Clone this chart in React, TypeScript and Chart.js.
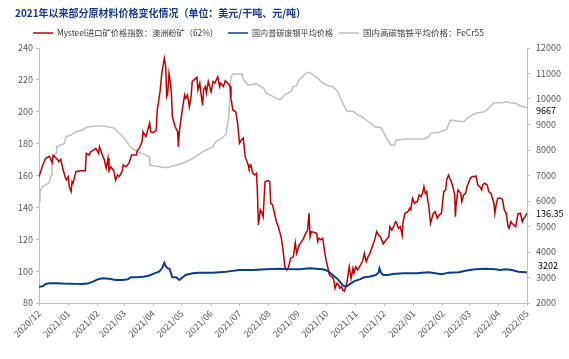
import React, { useEffect, useRef } from 'react';
import { Chart, registerables } from 'chart.js';

Chart.register(...registerables);

const FONT = '"Noto Sans CJK SC", "Noto Sans", sans-serif';

const chartTitle = '2021年以来部分原材料价格变化情况（单位：美元/干吨、元/吨）';
const seriesNames = [
  'Mysteel进口矿价格指数：澳洲粉矿（62%）',
  '国内普碳废钢平均价格',
  '国内高碳铬铁平均价格：FeCr55',
];
const monthLabels = [
  '2020/12', '2021/01', '2021/02', '2021/03', '2021/04', '2021/05', '2021/06', '2021/07', '2021/08',
  '2021/09', '2021/10', '2021/11', '2021/12', '2022/01', '2022/02', '2022/03', '2022/04', '2022/05',
];
const leftTicks = [80, 100, 120, 140, 160, 180, 200, 220, 240];
const rightTicks = [2000, 3000, 4000, 5000, 6000, 7000, 8000, 9000, 10000, 11000, 12000];

// days since 2020/12/01
const ironDay = [
  0, 4, 7, 11, 14, 15, 18, 20, 21, 23, 25, 28, 29, 31, 32, 34, 35, 36, 39, 44, 49, 50, 53, 55, 58, 60, 63, 64,
  67, 69, 71, 73, 74, 76, 79, 81, 83, 85, 88, 89, 92, 95, 98, 103, 104, 106, 109, 110, 113, 117, 118, 121, 124,
  125, 128, 130, 131, 132.5, 134, 135, 136, 137.5, 139, 140, 141, 144, 146.6, 147.3, 148.4, 150, 152, 154, 155,
  157, 159, 161, 162, 164, 167, 168, 170, 171, 173, 174, 176, 177, 179, 182, 184, 186, 189, 191, 192, 195, 197,
  201, 202, 203, 205, 208, 210, 212, 214, 216, 218, 221, 222, 224, 226, 228, 230, 231, 232, 234, 236, 237, 239,
  242, 244, 245, 247, 249, 251, 253, 256, 258, 260, 262, 264, 266, 269, 271, 272.5, 275, 279, 282, 284, 285.5,
  286.6, 288, 291, 293.6, 294.7, 296, 298, 300, 302, 303.5, 306, 307, 309, 310.6, 312, 313, 315, 317, 318, 320,
  321, 323, 325, 326, 328, 330, 332, 333, 335, 337, 339, 342, 344, 346, 348, 350, 353, 355, 357, 359, 361, 363,
  364, 367, 370, 371, 373, 375, 377, 378, 380, 382, 384, 385, 387, 390, 392, 393, 395, 397, 399, 400, 402, 404,
  406, 407, 408.5, 410, 411, 412, 414, 416, 417, 419, 421, 423, 425.5, 427, 428, 430, 431, 433, 435, 436, 437.5,
  439.6, 440.3, 441, 443, 444.5, 446, 447, 449, 451, 452.6, 454, 456, 458, 461, 462, 464, 466, 468, 469, 471,
  474, 475.5, 478, 481, 482, 483, 485, 488, 490, 492, 494, 496, 497, 499, 500, 502, 504, 505, 506.5, 509, 511,
  512.6, 514, 516,
];
const ironValue = [
  159, 166.6, 170.8, 172, 168, 172.7, 171, 169.7, 168.7, 170.2, 164.5, 158.4, 157.2, 159.3, 153, 149.9, 156.1,
  155.1, 162.4, 163, 163, 174, 172.9, 175, 176, 177, 174, 178, 172.9, 170, 164.5, 170.8, 163, 165.5, 163, 157.2,
  160.3, 159.3, 163, 166.6, 165.5, 167.6, 172.9, 172.9, 175.7, 177, 181.2, 187.5, 184.4, 192.8, 187.5, 186.9,
  188.6, 201, 212.6, 225, 228.3, 233.5, 228.3, 209.5, 211, 224, 218, 211.6, 197, 190.6, 187.5, 178, 187.5, 194.8,
  203.2, 210.5, 208.4, 210.5, 203, 210.5, 218.9, 220, 221.6, 213.7, 218, 212.6, 204, 213.7, 215.8, 211.6, 219,
  212.6, 218.9, 218, 222, 215.8, 218, 215.8, 219.5, 217, 215.8, 208.4, 201, 200, 192.8, 180.2, 182.3, 183.5,
  171.8, 167, 164.5, 166.6, 161.4, 160.3, 161.4, 148.8, 129, 138.4, 136.3, 134.2, 156.1, 156.8, 156.1, 142.6,
  141.5, 136.3, 131, 127.9, 121.6, 113.3, 102.8, 100.7, 102.8, 108, 109.1, 117.8, 111.2, 116.4, 119.6, 123.7,
  125.8, 136.3, 121.6, 124.8, 124.2, 123.7, 118.5, 120.6, 119.6, 120.6, 112.2, 107, 100.7, 97.6, 96.5, 96.1,
  93.4, 89.3, 92.4, 91.3, 89.3, 90.3, 88.2, 87.5, 91.3, 94.5, 102.8, 95.5, 101.8, 98.7, 102.8, 100.7, 102.8, 106,
  111.2, 106, 109.1, 111.2, 116.4, 119.6, 124.8, 122.7, 121.6, 118.5, 117, 119.6, 121.7, 127.9, 125.8, 127.9,
  131, 130.4, 126.9, 127.9, 122.5, 131, 136.3, 137.3, 139.4, 138.4, 145.7, 142.6, 143.6, 143.6, 147.8, 146.7,
  149.9, 153, 148.8, 149.9, 144.6, 141.5, 130, 134.2, 136.3, 137.3, 133.2, 135.2, 136.3, 144.6, 149.9, 151,
  157.2, 160.3, 157.2, 156.1, 153, 147.8, 134.2, 141.5, 151, 149.9, 148.8, 143.6, 147.8, 148.8, 153, 155.1,
  158.2, 159.3, 159.3, 159.7, 154, 153, 151, 154, 155.1, 154, 149.9, 148.8, 142.6, 136.3, 140.5, 145.7, 145.7,
  145.1, 138.4, 136.3, 127.9, 126.9, 131, 130, 129, 127.9, 131, 135.9, 136.3, 131, 133.2, 134.2, 136.35,
];

const scrapDay = [
  0, 4, 7, 11, 18, 25, 32, 39, 46, 51.5, 57, 62, 67, 74, 81, 88.5, 94, 97, 103, 110, 115, 118, 122, 127, 130,
  132.5, 134, 136, 138, 141, 145, 148.4, 152, 155, 162.5, 169.5, 176.6, 183.7, 190.7, 197.7, 204.8, 211.8, 226,
  240, 254, 261, 275, 286, 293, 300, 305, 310.6, 316, 321, 324, 326.4, 330, 333, 339, 344, 349, 356, 359, 360,
  361.6, 364, 369, 374, 385, 399, 412, 419, 426, 433, 444, 451, 461, 472, 482.5, 488, 493, 500, 507, 514, 516,
];
const scrapValue = [
  2640, 2660, 2745, 2771, 2771, 2760, 2755, 2750, 2750, 2760, 2837, 2928, 2967, 2950, 2902, 2902, 2930, 3007,
  3007, 3033, 3059, 3100, 3164, 3230, 3360, 3580, 3450, 3360, 3340, 3007, 3007, 2902, 3007, 3098, 3164, 3190,
  3190, 3190, 3210, 3230, 3260, 3294, 3294, 3320, 3346, 3330, 3320, 3360, 3346, 3320, 3268, 3098, 2928, 2706,
  2640, 2680, 2772, 2850, 2928, 3007, 3033, 3098, 3190, 3360, 3190, 3098, 3098, 3137, 3164, 3164, 3203, 3164,
  3124, 3190, 3203, 3268, 3320, 3346, 3320, 3294, 3320, 3294, 3229, 3210, 3202,
];

const chromeDay = [
  0, 1, 3.5, 10, 11.6, 12.7, 13.7, 16, 18, 18.7, 23, 27, 28.5, 34, 39, 46, 50, 60, 69, 75, 80, 83, 87, 90, 94,
  97, 101, 104, 109, 113, 116.6, 117.1, 128, 133, 138.5, 152, 163, 173, 177, 184, 187, 193, 198, 200.6, 201.6,
  203, 205, 214.7, 216, 221, 229, 234, 238, 240.7, 247.7, 253, 256, 259.4, 263, 267, 268.6, 272, 275, 279, 282,
  286, 290, 295, 298, 303.5, 310.6, 316, 319, 323, 325, 333, 337, 342, 346, 351, 354.5, 361.6, 365, 368.7, 372,
  376, 377.5, 388, 407, 412, 414, 423, 431, 435, 449, 452.6, 458, 462, 471, 477, 481, 490, 493, 498, 504, 509,
  516,
];
const chromeValue = [
  5973, 6365, 6561, 6694, 6824, 7000, 7737, 7737, 7868, 8130, 8196, 8262, 8522, 8588, 8718, 8784, 8890, 8941,
  8941, 8890, 8850, 8718, 8588, 8458, 8262, 8105, 8000, 7934, 7868, 7800, 7737, 7412, 7346, 7300, 7346, 7478,
  7675, 7934, 8000, 8130, 8326, 8458, 8620, 9307, 9961, 10875, 10980, 10980, 10772, 10549, 10600, 10500, 10400,
  10222, 10090, 9988, 9988, 10157, 10222, 10326, 10483, 10510, 10745, 10875, 11007, 11046, 10940, 10810, 10680,
  10550, 10483, 10287, 10026, 9698, 9541, 9500, 9373, 9300, 9176, 9050, 8914, 8880, 8654, 8392, 8196, 8196,
  8392, 8431, 8431, 8522, 8654, 8700, 8810, 9176, 9110, 9242, 9370, 9439, 9502, 9698, 9855, 9855, 9894, 9855,
  9831, 9725, 9667,
];

const RED = '#C00000';
const BLUE = '#0A3C8F';
const GRAY = '#BFBFBF';
const colors = [RED, BLUE, GRAY];

function monthToDay(label: string): number {
  const [y, m] = label.split('/').map(Number);
  return (Date.UTC(y, m - 1, 1) - Date.UTC(2020, 11, 1)) / 86400000;
}

function toPoints(days: number[], values: number[]) {
  return days.map((d, i) => ({ x: d, y: values[i] }));
}

const legendX = [33, 228, 339];
const legendTextWidth = [161, 81, 125];

const headerPlugin = {
  id: 'header',
  afterDraw(chart: any) {
    const ctx = chart.ctx as CanvasRenderingContext2D;
    ctx.save();
    ctx.textBaseline = 'middle';
    ctx.textAlign = 'left';
    ctx.fillStyle = '#1A3A8F';
    ctx.font = `bold 10.5px ${FONT}`;
    ctx.fillText(chartTitle, 15, 13, 291);
    ctx.font = `8.5px ${FONT}`;
    const y = 33;
    seriesNames.forEach((name, i) => {
      const x = legendX[i];
      ctx.strokeStyle = colors[i];
      ctx.lineWidth = 1.5;
      ctx.beginPath();
      ctx.moveTo(x, y);
      ctx.lineTo(x + 20, y);
      ctx.stroke();
      ctx.fillStyle = '#404040';
      ctx.fillText(name, x + 24, y, legendTextWidth[i]);
    });
    ctx.restore();
  },
};

const endLabelPlugin = {
  id: 'endLabels',
  afterDatasetsDraw(chart: any) {
    const ctx = chart.ctx as CanvasRenderingContext2D;
    const yL = chart.scales.y;
    const yR = chart.scales.y1;
    const lastIron = ironValue[ironValue.length - 1];
    const lastScrap = scrapValue[scrapValue.length - 1];
    const lastChrome = chromeValue[chromeValue.length - 1];
    ctx.save();
    ctx.font = `9px ${FONT}`;
    ctx.fillStyle = '#000000';
    ctx.textBaseline = 'middle';
    ctx.textAlign = 'left';
    ctx.fillText(String(lastChrome), 536, yR.getPixelForValue(lastChrome) + 3);
    ctx.fillText(lastIron.toFixed(2), 536, yL.getPixelForValue(lastIron));
    ctx.fillText(String(lastScrap), 538, yR.getPixelForValue(lastScrap) - 7);
    ctx.restore();
  },
};

export default function App() {
  const ref = useRef<HTMLCanvasElement | null>(null);

  useEffect(() => {
    document.body.style.margin = '0';
    const canvas = ref.current;
    if (!canvas) return;
    const monthDays = monthLabels.map(monthToDay);
    const axisGrid = {
      display: true,
      drawOnChartArea: false,
      drawTicks: true,
      tickLength: 3,
      color: '#BFBFBF',
    };
    const chart = new Chart(canvas, {
      type: 'line',
      data: {
        datasets: [
          {
            label: seriesNames[0],
            data: toPoints(ironDay, ironValue),
            borderColor: RED,
            backgroundColor: RED,
            borderWidth: 1.5,
            pointRadius: 0,
            tension: 0,
            yAxisID: 'y',
            order: 1,
          },
          {
            label: seriesNames[1],
            data: toPoints(scrapDay, scrapValue),
            borderColor: BLUE,
            backgroundColor: BLUE,
            borderWidth: 2,
            pointRadius: 0,
            tension: 0,
            yAxisID: 'y1',
            order: 0,
          },
          {
            label: seriesNames[2],
            data: toPoints(chromeDay, chromeValue),
            borderColor: GRAY,
            backgroundColor: GRAY,
            borderWidth: 1.5,
            pointRadius: 0,
            tension: 0,
            yAxisID: 'y1',
            order: 2,
          },
        ],
      },
      options: {
        responsive: false,
        devicePixelRatio: 1,
        animation: false,
        events: [],
        layout: { padding: { top: 48, left: 0, right: 0, bottom: 0 } },
        plugins: {
          legend: { display: false },
          title: { display: false },
          tooltip: { enabled: false },
        },
        scales: {
          x: {
            type: 'linear',
            min: monthDays[0],
            max: monthDays[monthDays.length - 1],
            grid: axisGrid,
            border: { display: true, color: '#BFBFBF', width: 1 },
            afterBuildTicks: (scale: any) => {
              scale.ticks = monthDays.map((v) => ({ value: v }));
            },
            afterFit: (scale: any) => {
              scale.height = 56;
            },
            ticks: {
              autoSkip: false,
              minRotation: 45,
              maxRotation: 45,
              padding: 2,
              color: '#595959',
              font: { family: FONT, size: 9 },
              callback: (_v: any, i: number) => monthLabels[i],
            },
          },
          y: {
            type: 'linear',
            position: 'left',
            min: leftTicks[0],
            max: leftTicks[leftTicks.length - 1],
            grid: axisGrid,
            border: { display: true, color: '#BFBFBF', width: 1 },
            afterBuildTicks: (scale: any) => {
              scale.ticks = leftTicks.map((v) => ({ value: v }));
            },
            afterFit: (scale: any) => {
              scale.width = 39;
            },
            ticks: {
              padding: 3,
              color: '#595959',
              font: { family: FONT, size: 9 },
              callback: (v: any) => String(v),
            },
          },
          y1: {
            type: 'linear',
            position: 'right',
            min: rightTicks[0],
            max: rightTicks[rightTicks.length - 1],
            grid: axisGrid,
            border: { display: true, color: '#BFBFBF', width: 1 },
            afterBuildTicks: (scale: any) => {
              scale.ticks = rightTicks.map((v) => ({ value: v }));
            },
            afterFit: (scale: any) => {
              scale.width = 42;
            },
            ticks: {
              padding: 6,
              color: '#595959',
              font: { family: FONT, size: 9 },
              callback: (v: any) => String(v),
            },
          },
        },
      },
      plugins: [headerPlugin, endLabelPlugin],
    } as any);
    return () => chart.destroy();
  }, []);

  return (
    <div style={{ position: 'fixed', left: 0, top: 0, width: 569, height: 359, background: '#ffffff' }}>
      <canvas ref={ref} width={569} height={359} style={{ width: 569, height: 359, display: 'block' }} />
    </div>
  );
}
